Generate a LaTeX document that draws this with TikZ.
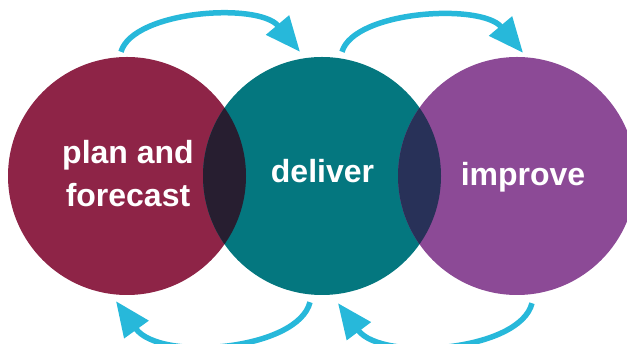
\documentclass[tikz,border=0pt]{standalone}
\usepackage{fontspec}
\setmainfont{Liberation Sans}
\usetikzlibrary{arrows.meta}

\definecolor{planred}{HTML}{8E2447}
\definecolor{deliverteal}{HTML}{04777F}
\definecolor{improvepurple}{HTML}{8C4A96}
\definecolor{lensleft}{HTML}{271E30}
\definecolor{lensright}{HTML}{283158}
\definecolor{flowcyan}{HTML}{27B8DA}

\tikzset{
  stage/.style={circle, inner sep=0pt, minimum size=238pt},
  label/.style={text=white, font=\bfseries\fontsize{32}{43}\selectfont, align=center, inner sep=0pt},
  flow/.style={draw=flowcyan, line width=5.5pt, -{Triangle[length=35pt,width=29pt]}}
}

\begin{document}
\begin{tikzpicture}[x=1pt,y=1pt]
  \useasboundingbox (0,0) rectangle (627,344);
  \clip (0,0) rectangle (627,344);

  % the three stages
  \node[stage, fill=planred]       (plan)    at (127,168) {};
  \node[stage, fill=deliverteal]   (deliver) at (322,168) {};
  \node[stage, fill=improvepurple] (improve) at (517,168) {};

  % overlapping lenses
  \begin{scope}
    \clip (plan.center) circle (119);
    \fill[lensleft] (deliver.center) circle (119);
  \end{scope}
  \begin{scope}
    \clip (deliver.center) circle (119);
    \fill[lensright] (improve.center) circle (119);
  \end{scope}

  % stage names
  \node[label] (plantext)    at (128,170.5) {plan and\\forecast};
  \node[label, anchor=base] (delivertext) at (322.5,161) {deliver};
  \node[label, anchor=base] (improvetext) at (523,158) {improve};

  % forward arrows over the top
  \draw[flow] ([shift={(-6,5)}]plan.north)
      .. controls +(12,41) and +(-42,50) .. ([shift={(-22,5)}]deliver.north);
  \draw[flow] ([shift={(20,5)}]deliver.north)
      .. controls +(12,41) and +(-42,50) .. ([shift={(6,4)}]improve.north);

  % return arrows underneath
  \draw[flow] ([shift={(-12,-7)}]deliver.south)
      .. controls +(-12,-48) and +(44,-61) .. ([shift={(-11,-6)}]plan.south);
  \draw[flow] ([shift={(15,-8)}]improve.south)
      .. controls +(-12,-48) and +(44,-59) .. ([shift={(16,-8)}]deliver.south);
\end{tikzpicture}
\end{document}
